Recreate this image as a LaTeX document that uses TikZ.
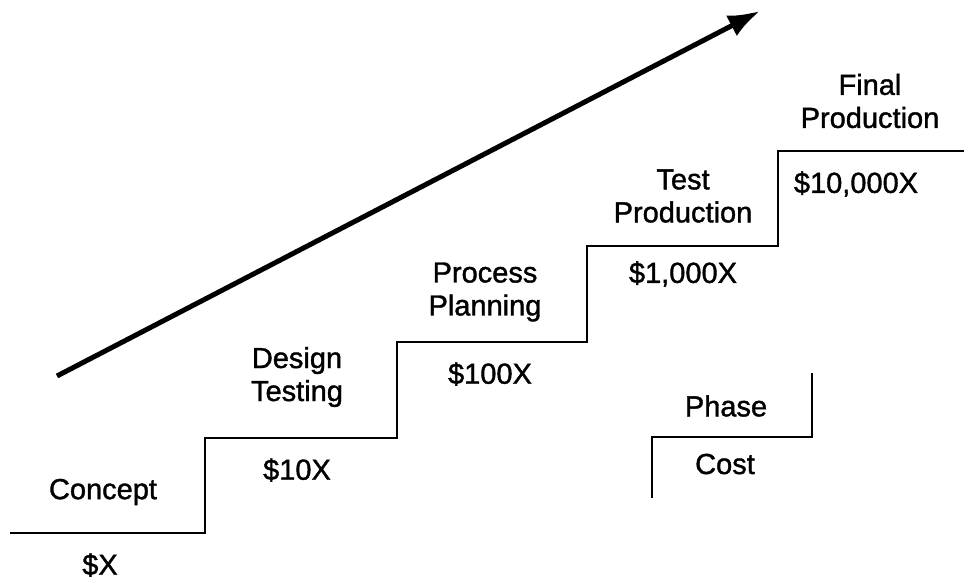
\documentclass[tikz,border=0pt]{standalone}
\usepackage{fontspec}
\setmainfont{Liberation Sans}
\newfontfamily\lblfont[FakeBold=1.3]{Liberation Sans}
\usetikzlibrary{arrows.meta}
\begin{document}
\begin{tikzpicture}[x=1pt,y=-1pt,
  lbl/.style={font=\lblfont\fontsize{29}{33}\selectfont, align=center, inner sep=0pt},
  stair/.style={line width=2.8pt, line join=miter},
  growth/.style={line width=5pt, -{Latex[length=32pt,width=23pt]}}]
  \useasboundingbox (0,0) rectangle (964,579);

  % staircase of phases
  \draw[stair] (10,533) -- (205,533) -- (205,438) -- (397,438) -- (397,342)
    -- (587,342) -- (587,246) -- (778,246) -- (778,151) -- (964,151);

  % legend step
  \draw[stair] (812,373) -- (812,437) -- (652,437) -- (652,498);

  % rising trend arrow
  \coordinate (trendA) at (57,376);
  \coordinate (trendB) at (760,11);
  \draw[growth] (trendA) -- (trendB);

  % phase names
  \node[lbl] (concept) at (103,492) {Concept};
  \node[lbl] (design) at (297,377) {Design\\Testing};
  \node[lbl] (process) at (485,292) {Process\\Planning};
  \node[lbl] (test) at (683,196) {Test\\Production};
  \node[lbl] (final) at (870,101) {Final\\Production};

  % costs
  \node[lbl] (cx) at (100,565) {\$X};
  \node[lbl] (c10) at (297,470) {\$10X};
  \node[lbl] (c100) at (490,374) {\$100X};
  \node[lbl] (c1000) at (683,274) {\$1,000X};
  \node[lbl] (c10000) at (856,184) {\$10,000X};

  % legend labels
  \node[lbl] (phase) at (726,406) {Phase};
  \node[lbl] (cost) at (725,464) {Cost};
\end{tikzpicture}
\end{document}
